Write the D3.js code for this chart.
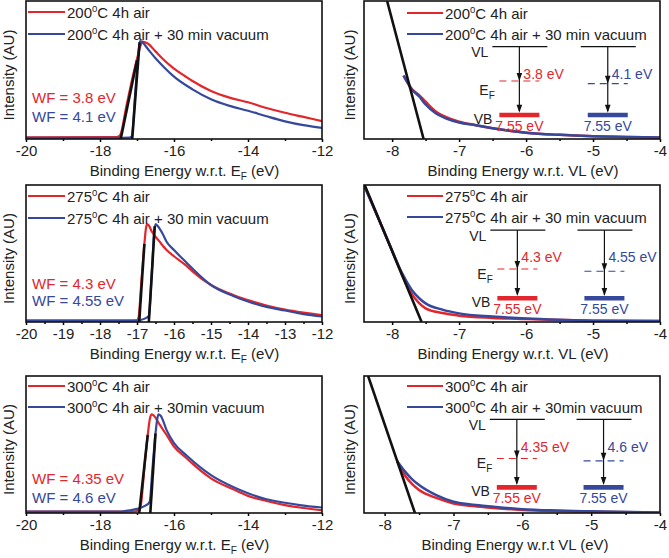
<!DOCTYPE html>
<html>
<head>
<meta charset="utf-8">
<script src="https://cdn.jsdelivr.net/npm/d3@7"></script>
<style>
  body { margin: 0; background: #fff; }
  text { font-family: "Liberation Sans", Arial, sans-serif; }
</style>
</head>
<body>
<div id="fig"></div>
<script>
// ---- data: [energy (eV), intensity (AU, normalised)] ----
// cutoff region, binding energy w.r.t. E_F
var p200_air = [[-20,0.012],[-17.6,0.013],[-17.5,0.018],[-17.45,0.03],[-17.3,0.22],[-17.15,0.41],[-17.0,0.58],[-16.9,0.68],[-16.85,0.705],[-16.78,0.7],[-16.7,0.69],[-16.5,0.635],[-16.3,0.58],[-16.0,0.51],[-15.7,0.455],[-15.5,0.42],[-15,0.348],[-14.5,0.3],[-14,0.266],[-13.5,0.225],[-13,0.19],[-12.5,0.16],[-12,0.13]];
var p200_vac = [[-20,0.008],[-17.6,0.008],[-17.2,0.01],[-17.14,0.02],[-17.05,0.32],[-16.97,0.6],[-16.92,0.71],[-16.85,0.7],[-16.7,0.65],[-16.5,0.585],[-16.25,0.515],[-16,0.452],[-15.5,0.36],[-15,0.288],[-14.5,0.24],[-14,0.205],[-13.5,0.165],[-13,0.128],[-12.5,0.1],[-12,0.08]];
var fit200 = [[[-17.44,0],[-17.0,0.57]], [[-17.13,0],[-16.93,0.7]]];

var p275_air = [[-20,0.01],[-17.2,0.01],[-17.0,0.013],[-16.96,0.03],[-16.88,0.3],[-16.8,0.57],[-16.76,0.68],[-16.73,0.713],[-16.68,0.705],[-16.6,0.66],[-16.4,0.59],[-16.2,0.525],[-16.0,0.48],[-15.66,0.41],[-15.5,0.37],[-15,0.27],[-14.4,0.197],[-14,0.16],[-13.5,0.12],[-13,0.09],[-12.5,0.068],[-12,0.05]];
var p275_vac = [[-20,0.01],[-17.0,0.01],[-16.9,0.015],[-16.75,0.03],[-16.68,0.045],[-16.6,0.36],[-16.54,0.64],[-16.5,0.715],[-16.44,0.7],[-16.3,0.64],[-16.2,0.586],[-16.0,0.525],[-15.66,0.433],[-15.5,0.39],[-15,0.27],[-14.4,0.19],[-14,0.15],[-13.5,0.11],[-13,0.084],[-12.5,0.058],[-12,0.04]];
var fit275 = [[[-16.94,0],[-16.8,0.57]], [[-16.68,0],[-16.52,0.7]]];

var p300_air = [[-20,0.01],[-17.1,0.01],[-16.95,0.02],[-16.9,0.05],[-16.8,0.33],[-16.71,0.57],[-16.65,0.69],[-16.6,0.72],[-16.54,0.71],[-16.4,0.65],[-16.2,0.57],[-16,0.484],[-15.66,0.4],[-15.5,0.36],[-15,0.253],[-14.4,0.173],[-14,0.125],[-13.5,0.088],[-13,0.058],[-12.6,0.04],[-12,0.02]];
var p300_vac = [[-20,0.01],[-17.5,0.01],[-17.3,0.015],[-17.0,0.03],[-16.8,0.05],[-16.66,0.08],[-16.58,0.33],[-16.5,0.58],[-16.45,0.69],[-16.42,0.72],[-16.36,0.71],[-16.2,0.605],[-16,0.51],[-15.66,0.42],[-15,0.277],[-14.4,0.19],[-14,0.144],[-13.5,0.1],[-13,0.075],[-12.6,0.058],[-12,0.04]];
var fit300 = [[[-16.94,0],[-16.71,0.57]], [[-16.64,0],[-16.5,0.58]]];

// valence band edge, binding energy w.r.t. VL
var v200_air = [[-7.83,0.46],[-7.7,0.36],[-7.6,0.32],[-7.5,0.27],[-7.35,0.2],[-7.2,0.16],[-7,0.125],[-6.75,0.1],[-6.5,0.078],[-6.25,0.06],[-6,0.046],[-5.5,0.03],[-5,0.02],[-4.5,0.015],[-4,0.01]];
var v200_vac = [[-7.83,0.46],[-7.7,0.355],[-7.6,0.31],[-7.5,0.25],[-7.35,0.186],[-7.2,0.15],[-7,0.12],[-6.75,0.1],[-6.5,0.078],[-6.25,0.06],[-6,0.046],[-5.5,0.03],[-5,0.02],[-4.5,0.015],[-4,0.01]];
var vfit200 = [[[-8.075,1],[-7.53,0]]];

var v275_air = [[-8.42,1.0],[-8.2,0.75],[-8.0,0.52],[-7.9,0.4],[-7.8,0.29],[-7.7,0.2],[-7.6,0.14],[-7.5,0.1],[-7.25,0.065],[-7,0.046],[-6.5,0.03],[-6,0.022],[-5.5,0.015],[-5,0.01],[-4,0.008]];
var v275_vac = [[-8.42,1.0],[-8.2,0.75],[-8.0,0.52],[-7.9,0.405],[-7.8,0.31],[-7.7,0.23],[-7.6,0.175],[-7.5,0.136],[-7.25,0.09],[-7,0.063],[-6.5,0.04],[-6,0.025],[-5.5,0.016],[-5,0.01],[-4,0.008]];
var vfit275 = [[[-8.41,1],[-7.56,0]]];

var v300_air = [[-7.82,0.38],[-7.7,0.27],[-7.6,0.21],[-7.5,0.168],[-7.25,0.11],[-7,0.07],[-6.75,0.052],[-6.5,0.04],[-6,0.022],[-5.5,0.014],[-5,0.01],[-4,0.003]];
var v300_vac = [[-7.82,0.38],[-7.7,0.3],[-7.6,0.245],[-7.5,0.204],[-7.25,0.13],[-7,0.082],[-6.75,0.062],[-6.5,0.05],[-6,0.028],[-5.5,0.018],[-5,0.012],[-4,0.003]];
var vfit300 = [[[-8.24,1],[-7.56,0]]];

var temps = ["200", "275", "300"];
var vacLabels = ["C 4h air + 30 min vacuum", "C 4h air + 30 min vacuum", "C 4h air + 30min vacuum"];
var wf200 = [3.8, 4.1], wf275 = [4.3, 4.55], wf300 = [4.35, 4.6];
var vbEnergy = 7.55;

var red = "#e3262b", blue = "#35489c";

var svg = d3.select("#fig").append("svg")
  .attr("width", 669)
  .attr("height", 558);

var rows = [{top: 1, bottom: 139}, {top: 185, bottom: 322}, {top: 376, bottom: 513}];

var panels = [
  {row: 0, side: "L", xdom: [-20, -12], step: 2, series: [p200_air, p200_vac], fits: fit200, t: 0, wf: wf200, wfY: [0.297, 0.16], tdx: 10.5, ly: [11, 33]},
  {row: 0, side: "R", xdom: [-8.42, -4], step: 1, series: [v200_air, v200_vac], fits: vfit200, t: 0, wf: wf200, arrows: [-6.1, -4.78], vl: 0.67, vb: 0.174, tdx: 11, ly: [12, 33], title: "Binding Energy w.r.t. VL (eV)"},
  {row: 1, side: "L", xdom: [-20, -12], step: 1, series: [p275_air, p275_vac], fits: fit275, t: 1, wf: wf275, wfY: [0.28, 0.155], tdx: 10.5, ly: [11, 33]},
  {row: 1, side: "R", xdom: [-8.42, -4], step: 1, series: [v275_air, v275_vac], fits: vfit275, t: 1, wf: wf275, arrows: [-6.13, -4.83], vl: 0.67, vb: 0.173, tdx: 1, ly: [11, 32], title: "Binding Energy w.r.t. VL (eV)"},
  {row: 2, side: "L", xdom: [-20, -12], step: 2, series: [p300_air, p300_vac], fits: fit300, t: 2, wf: wf300, wfY: [0.25, 0.11], tdx: 0.5, ly: [10, 31]},
  {row: 2, side: "R", xdom: [-8.3, -4], step: 1, series: [v300_air, v300_vac], fits: vfit300, t: 2, wf: wf300, arrows: [-6.08, -4.82], vl: 0.684, vb: 0.187, tdx: 3, ly: [10, 31], title: "Binding Energy w.r.t VL (eV)"}
];

panels.forEach(function(p, i) { build_panel(p, i); });

function build_panel(p, idx) {
  var left = p.side == "L" ? 26 : 364;
  var right = p.side == "L" ? 322 : 660;
  var top = rows[p.row].top, bottom = rows[p.row].bottom;
  var colors = [red, blue];

  var x = d3.scaleLinear().domain(p.xdom).range([left, right]);
  var y = d3.scaleLinear().domain([0, 1]).range([bottom, top]);

  var g = svg.append("g");

  g.append("clipPath").attr("id", "clip" + idx)
    .append("rect")
    .attr("x", left).attr("y", top)
    .attr("width", right - left).attr("height", bottom - top);

  var line = d3.line()
    .x(function(d) { return x(d[0]); })
    .y(function(d) { return y(d[1]); })
    .curve(d3.curveMonotoneX);

  var plot = g.append("g").attr("clip-path", "url(#clip" + idx + ")");
  p.series.forEach(function(s, k) {
    plot.append("path")
      .datum(s)
      .attr("d", line)
      .attr("fill", "none")
      .attr("stroke", colors[k])
      .attr("stroke-width", p.side == "L" ? 2.2 : 2.5);
  });
  p.fits.forEach(function(f) {
    plot.append("path")
      .datum(f)
      .attr("d", d3.line().x(function(d) { return x(d[0]); }).y(function(d) { return y(d[1]); }))
      .attr("fill", "none")
      .attr("stroke", "#111")
      .attr("stroke-width", 2.6);
  });

  // axis: major and minor ticks, outward
  var lo = Math.ceil(p.xdom[0]), hi = p.xdom[1];
  var major = d3.range(hi, lo - 1e-9, -p.step).reverse();
  var minor = d3.range(hi, p.xdom[0] - 1e-9, -p.step / 2)
    .filter(function(v) { return major.indexOf(v) < 0; });

  var ax = g.append("g")
    .attr("transform", "translate(0," + bottom + ")")
    .call(d3.axisBottom(x).tickValues(major).tickSize(3).tickPadding(3).tickFormat(function(d) { return String(d); }));
  ax.select(".domain").remove();
  ax.selectAll("line").attr("stroke-width", 1.5);
  ax.selectAll("text")
    .style("font-size", "15px")
    .style("font-family", '"Liberation Sans", Arial, sans-serif')
    .attr("fill", "#222");

  var axm = g.append("g")
    .attr("transform", "translate(0," + bottom + ")")
    .call(d3.axisBottom(x).tickValues(minor).tickSize(2).tickFormat(""));
  axm.select(".domain").remove();
  axm.selectAll("line").attr("stroke-width", 1.5);

  // frame
  g.append("rect")
    .attr("x", left).attr("y", top)
    .attr("width", right - left).attr("height", bottom - top)
    .attr("fill", "none")
    .attr("stroke", "#111")
    .attr("stroke-width", 1.6);

  // x title
  var tt = g.append("text")
    .attr("x", (left + right) / 2 + p.tdx)
    .attr("y", bottom + 37)
    .attr("text-anchor", "middle")
    .style("font-size", "15px")
    .attr("fill", "#222");
  if (p.side == "L") {
    tt.append("tspan").text("Binding Energy w.r.t. E");
    tt.append("tspan").attr("dy", 4).style("font-size", "10px").text("F");
    tt.append("tspan").attr("dy", -4).text(" (eV)");
  } else {
    tt.text(p.title);
  }

  // y title
  var yx = p.side == "L" ? left - 12 : left - 9;
  g.append("text")
    .attr("transform", "translate(" + yx + "," + ((top + bottom) / 2 + 5) + ") rotate(-90)")
    .attr("text-anchor", "middle")
    .style("font-size", "15px")
    .attr("fill", "#222")
    .text("Intensity (AU)");

  // legend
  var lx0 = p.side == "L" ? 2 : 43, lx1 = p.side == "L" ? 39 : 79, tx = p.side == "L" ? 41 : 81;
  var rest = ["C 4h air", vacLabels[p.t]];
  for (var k = 0; k < 2; k++) {
    g.append("line")
      .attr("x1", left + lx0).attr("x2", left + lx1)
      .attr("y1", top + p.ly[k]).attr("y2", top + p.ly[k])
      .attr("stroke", colors[k]).attr("stroke-width", 2.2);
    var lt = g.append("text")
      .attr("x", left + tx)
      .attr("y", top + p.ly[k] + 5.5)
      .style("font-size", "15px")
      .attr("fill", "#222");
    lt.append("tspan").text(temps[p.t]);
    lt.append("tspan").attr("dy", -6).style("font-size", "9.5px").text("0");
    lt.append("tspan").attr("dy", 6).text(rest[k]);
  }

  if (p.side == "L") {
    p.wf.forEach(function(w, k) {
      g.append("text")
        .attr("x", left + 6)
        .attr("y", y(p.wfY[k]) + 5)
        .style("font-size", "15px")
        .attr("fill", colors[k])
        .text("WF = " + w + " eV");
    });
  } else {
    build_diagram(g, p, x, y, colors);
  }
}

function build_diagram(g, p, x, y, colors) {
  var yVL = y(p.vl), yVB = y(p.vb);
  var span = yVB - yVL;
  p.arrows.forEach(function(a, k) {
    var ax = x(a);
    var yEF = yVL + span * p.wf[k] / vbEnergy;
    // vacuum level
    g.append("line")
      .attr("x1", ax - 27).attr("x2", ax + 28)
      .attr("y1", yVL).attr("y2", yVL)
      .attr("stroke", "#111").attr("stroke-width", 1.2);
    // Fermi level
    g.append("line")
      .attr("x1", ax - 20).attr("x2", ax + 20)
      .attr("y1", yEF).attr("y2", yEF)
      .attr("stroke", colors[k]).attr("stroke-width", 1.2)
      .attr("stroke-dasharray", "7,5");
    // valence band
    g.append("line")
      .attr("x1", ax - 20).attr("x2", ax + 20)
      .attr("y1", yVB).attr("y2", yVB)
      .attr("stroke", colors[k]).attr("stroke-width", 4.6);
    // arrow
    g.append("line")
      .attr("x1", ax).attr("x2", ax)
      .attr("y1", yVL).attr("y2", yVB - 4)
      .attr("stroke", "#111").attr("stroke-width", 1.2);
    [yEF, yVB - 2.3].forEach(function(tip) {
      g.append("path")
        .attr("d", "M" + ax + "," + tip + "L" + (ax - 2.8) + "," + (tip - 8) + "L" + (ax + 2.8) + "," + (tip - 8) + "Z")
        .attr("fill", "#111");
    });
    g.append("text")
      .attr("x", ax + 4)
      .attr("y", yVL + 0.4 * span + 5)
      .style("font-size", "14px")
      .attr("fill", colors[k])
      .text(p.wf[k] + " eV");
    g.append("text")
      .attr("x", ax)
      .attr("y", yVB + 16)
      .attr("text-anchor", "middle")
      .style("font-size", "14px")
      .attr("fill", colors[k])
      .text(vbEnergy + " eV");
    if (k == 0) {
      g.append("text")
        .attr("x", ax - 31).attr("y", yVL + 10.5)
        .attr("text-anchor", "end")
        .style("font-size", "14px").attr("fill", "#222")
        .text("VL");
      var ef = g.append("text")
        .attr("x", ax - 40).attr("y", yVL + 0.71 * span)
        .style("font-size", "14px").attr("fill", "#222");
      ef.append("tspan").text("E");
      ef.append("tspan").attr("dy", 4).style("font-size", "10px").text("F");
      g.append("text")
        .attr("x", ax - 27).attr("y", yVB + 9)
        .attr("text-anchor", "end")
        .style("font-size", "14px").attr("fill", "#222")
        .text("VB");
    }
  });
}
</script>
</body>
</html>
